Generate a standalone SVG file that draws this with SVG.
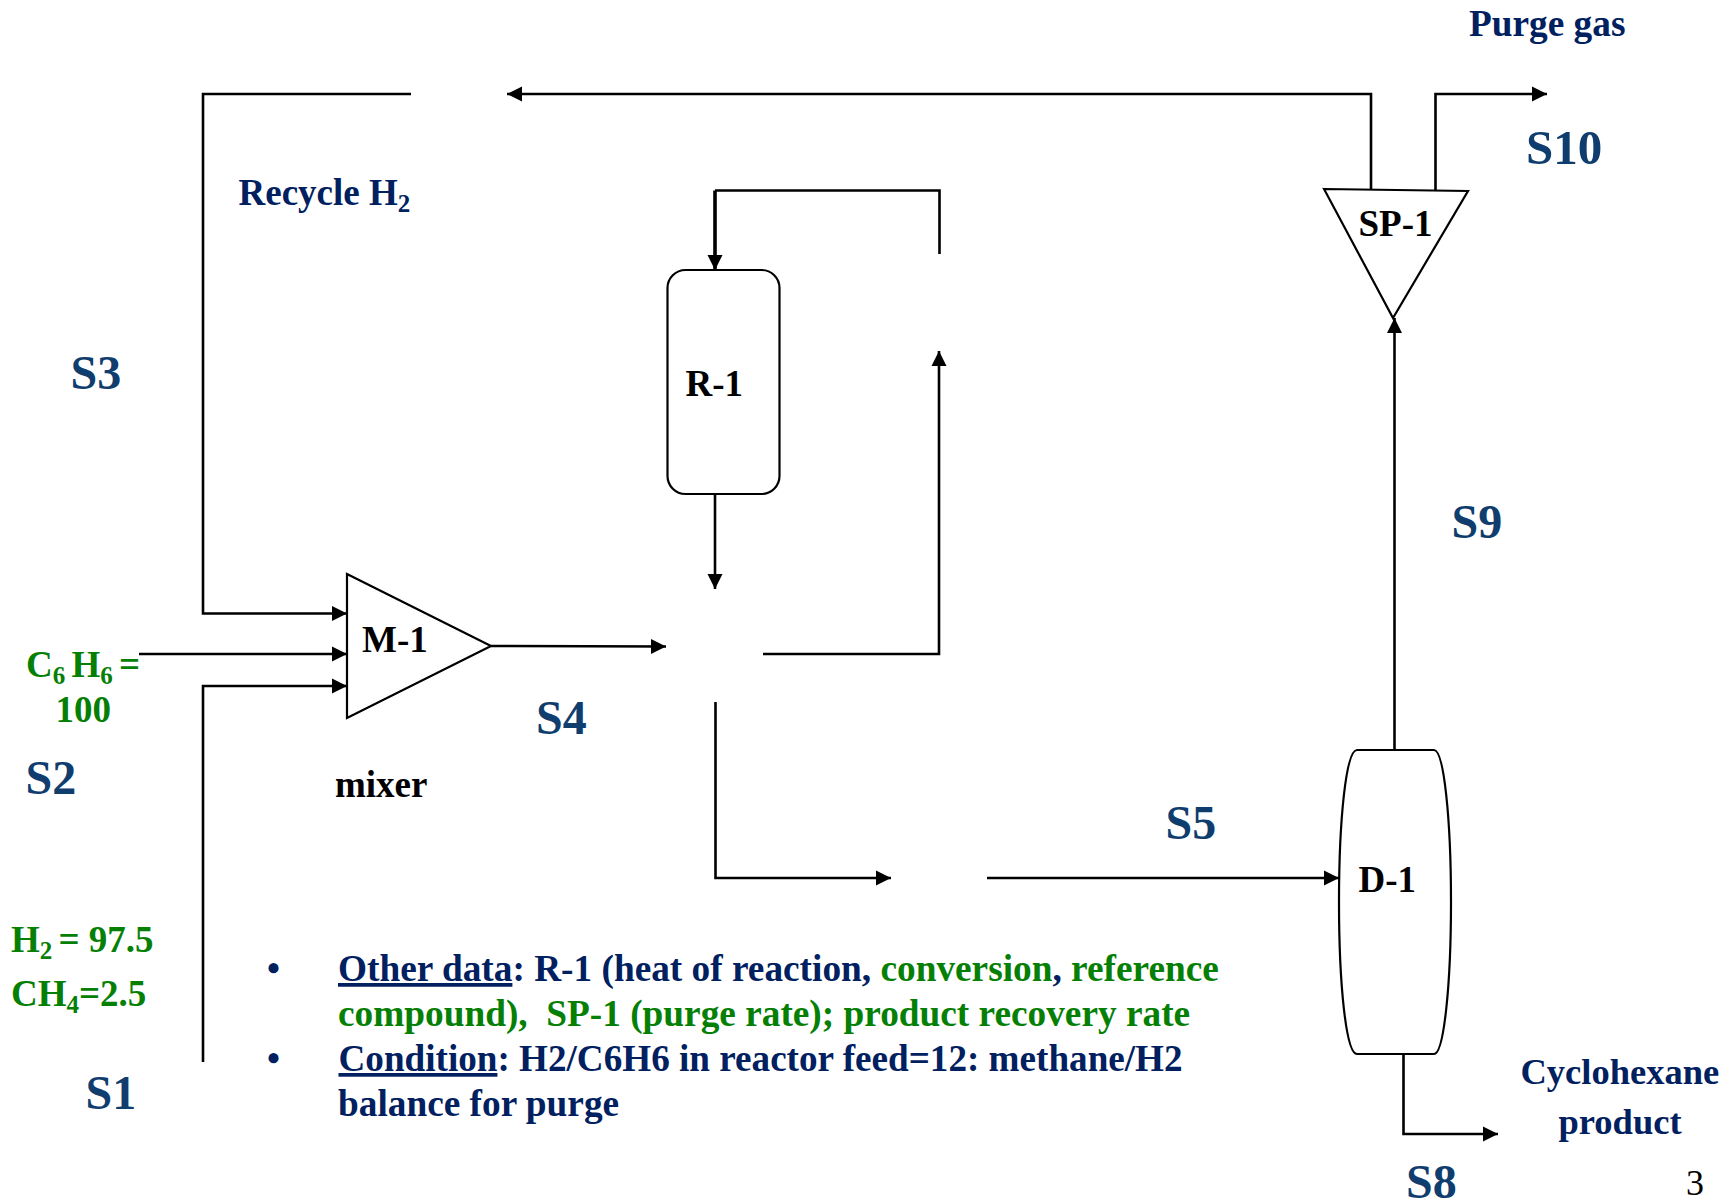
<svg xmlns="http://www.w3.org/2000/svg" width="1734" height="1200" viewBox="0 0 1734 1200">
<style>
text{font-family:"Liberation Serif","Times New Roman",serif;font-weight:700}
.s{font-size:48px;fill:#0f3d6e}
.n{font-size:37px;fill:#00205f}
.g{font-size:37px;fill:#058005}
.b{font-size:37.300px}
.k{font-size:37px;fill:#000}
.sub{font-size:25px}
.u{text-decoration:underline}
.shape{fill:#fff;stroke:#000;stroke-width:2.2}
.c{fill:none;stroke:#000;stroke-width:2.600}
</style>
<defs>
<marker id="a" markerUnits="userSpaceOnUse" markerWidth="16" markerHeight="16" refX="15" refY="8" orient="auto"><path d="M0 0.5L15 8L0 15.5Z" fill="#000"/></marker>
</defs>
<rect width="1734" height="1200" fill="#fff"/>
<g id="connectors">
<path class="c" d="M1371 189V94H507" marker-end="url(#a)"/>
<path class="c" d="M411 94H203V613.500H347" marker-end="url(#a)"/>
<path class="c" d="M139 654H347" marker-end="url(#a)"/>
<path class="c" d="M203 1062V686H347" marker-end="url(#a)"/>
<path class="c" d="M491 646L666 646.500" marker-end="url(#a)"/>
<path class="c" d="M939.500 254V190.500H715"/>
<path class="c" style="stroke-width:3.600" d="M715 190.500V270" marker-end="url(#a)"/>
<path class="c" d="M763 654H939V351" marker-end="url(#a)"/>
<path class="c" d="M715 494V589" marker-end="url(#a)"/>
<path class="c" d="M715.500 702V878H891" marker-end="url(#a)"/>
<path class="c" d="M987 878H1339" marker-end="url(#a)"/>
<path class="c" d="M1394.500 750V318" marker-end="url(#a)"/>
<path class="c" d="M1435.500 190V94H1547" marker-end="url(#a)"/>
<path class="c" d="M1403.500 1054V1134H1498" marker-end="url(#a)"/>
</g>
<g id="M-1"><path class="shape" d="M347 574L491 646L347 718Z"/><text class="k" x="362" y="652">M-1</text></g>
<g id="R-1"><rect class="shape" x="667.500" y="270" width="112" height="224" rx="18"/><text class="k" x="685.500" y="396">R-1</text></g>
<g id="SP-1"><path class="shape" d="M1324 189L1468 191L1393 318Z"/><text class="k" x="1358.500" y="236">SP-1</text></g>
<g id="D-1"><path class="shape" d="M1357 750H1434C1444 750 1451 820 1451 902C1451 984 1444 1054 1434 1054H1357C1346 1054 1339 984 1339 902C1339 820 1346 750 1357 750Z"/><text class="k" x="1358.500" y="892">D-1</text></g>
<g id="labels">
<text class="s" x="70.500" y="389">S3</text>
<text class="s" x="25.500" y="794">S2</text>
<text class="s" x="85.500" y="1109">S1</text>
<text class="s" x="536" y="734">S4</text>
<text class="s" x="1165.500" y="839">S5</text>
<text class="s" x="1406" y="1198">S8</text>
<text class="s" x="1451.500" y="538">S9</text>
<text class="s" x="1526" y="164" style="font-size:49px">S10</text>
<text class="n" x="1469" y="36" style="font-size:37.300px">Purge gas</text>
<text class="n" x="238.500" y="205">Recycle H<tspan class="sub" dy="7">2</tspan></text>
<text class="k" x="335" y="796.500">mixer</text>
<text class="g" x="26" y="677">C<tspan class="sub" dy="7">6 </tspan><tspan dy="-7">H</tspan><tspan class="sub" dy="7">6 </tspan><tspan dy="-7">=</tspan></text>
<text class="g" x="55.500" y="722">100</text>
<text class="g" x="11" y="952">H<tspan class="sub" dy="7">2 </tspan><tspan dy="-7">= 97.5</tspan></text>
<text class="g" x="11" y="1006">CH<tspan class="sub" dy="7">4</tspan><tspan dy="-7">=2.5</tspan></text>
<text class="n" x="267" y="981">•</text>
<text class="n b" x="338" y="981"><tspan class="u">Other data</tspan>: R-1 (heat of reaction, <tspan fill="#058005">conversion</tspan>, <tspan fill="#058005">reference</tspan></text>
<text class="g b" x="338" y="1026">compound),&#160; SP-1 (purge rate); product recovery rate</text>
<text class="n" x="267" y="1071">•</text>
<text class="n" x="338.500" y="1071" style="font-size:37.150px"><tspan class="u">Condition</tspan>: H2/C6H6 in reactor feed=12: methane/H2</text>
<text class="n b" x="338" y="1115.500">balance for purge</text>
<text class="n" x="1520.500" y="1084" style="font-size:36.500px">Cyclohexane</text>
<text class="n" x="1558.500" y="1134" style="font-size:36.500px">product</text>
<text x="1686" y="1195" style="font-size:36px;font-weight:400;fill:#000">3</text>
</g>
</svg>
